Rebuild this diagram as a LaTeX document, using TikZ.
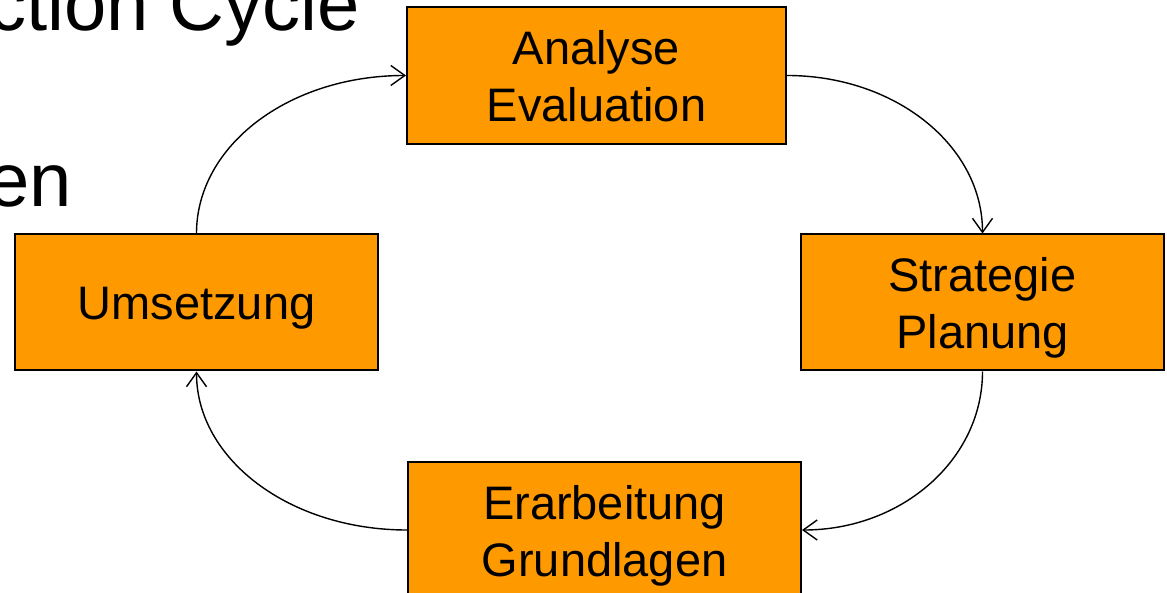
\documentclass[tikz,border=0pt]{standalone}
\usepackage{fontspec}
\setmainfont{Liberation Sans}
\usetikzlibrary{arrows.meta}
\definecolor{boxorange}{RGB}{255,153,0}
\begin{document}
\begin{tikzpicture}[x=1pt,y=-1pt,
  box/.style={draw=black, line width=2pt, fill=boxorange, rectangle, inner sep=0pt},
  lbl/.style={anchor=base, inner sep=0pt, font=\fontsize{47}{56}\selectfont},
  big/.style={anchor=base east, inner sep=0pt, font=\fontsize{76}{90}\selectfont},
  conn/.style={draw=black, line width=1.4pt, -{Straight Barb[length=14pt,width=20pt,line width=1.4pt]}}]
\useasboundingbox (0,0) rectangle (1167,593);
\clip (0,0) rectangle (1167,593);
% background title fragments
\node[big] (title) at (360,31) {ction Cycle};
\node[big] (frag) at (72,207) {en};
% boxes
\node[box, minimum width=379pt, minimum height=137pt] (ana) at (596.5,75.5) {};
\node[box, minimum width=363pt, minimum height=136pt] (str) at (982.5,302.5) {};
\node[box, minimum width=363pt, minimum height=136pt] (ums) at (196.5,302.5) {};
\node[box, minimum width=393pt, minimum height=136pt] (era) at (604.5,530) {};
% labels
\node[lbl] (anaA) at (596.5,65) {Analyse};
\node[lbl] (anaB) at (596.5,122) {Evaluation};
\node[lbl] (strA) at (982.5,292) {Strategie};
\node[lbl] (strB) at (982.5,349) {Planung};
\node[lbl] (umsA) at (196.5,320) {Umsetzung};
\node[lbl] (eraA) at (604.5,519) {Erarbeitung};
\node[lbl] (eraB) at (604.5,576) {Grundlagen};
% connectors
\draw[conn] (ana.east) .. controls +(108,0) and +(0,-88) .. (str.north);
\draw[conn] (str.south) .. controls +(0,88) and +(100,0) .. (era.east);
\draw[conn] (era.west) .. controls +(-117,0) and +(0,88) .. (ums.south);
\draw[conn] (ums.north) .. controls +(0,-88) and +(-117,0) .. (ana.west);
\end{tikzpicture}
\end{document}
